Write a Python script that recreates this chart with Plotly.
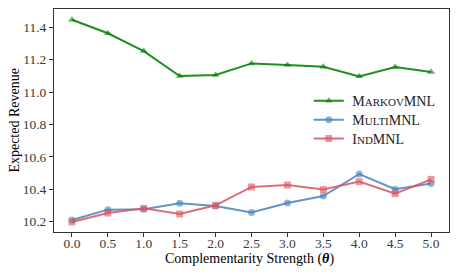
import plotly.graph_objects as go

theta = [0.0, 0.5, 1.0, 1.5, 2.0, 2.5, 3.0, 3.5, 4.0, 4.5, 5.0]
markov = [11.447, 11.363, 11.253, 11.099, 11.105, 11.177, 11.167, 11.156, 11.097, 11.155, 11.124]
multi = [10.210, 10.274, 10.277, 10.313, 10.296, 10.257, 10.315, 10.358, 10.494, 10.400, 10.435]
ind = [10.198, 10.253, 10.282, 10.247, 10.301, 10.414, 10.426, 10.398, 10.447, 10.373, 10.461]
y_ticks = [10.2, 10.4, 10.6, 10.8, 11.0, 11.2, 11.4]

FONT = "Liberation Serif, Times New Roman, serif"
TICK_COLOR = "#3a3a3a"

def sc(first, small, rest):
    return f"\u00a0{first}<span style='font-size:11px'>{small}</span>{rest}"

fig = go.Figure()
series = [
    (markov, sc("M", "ARKOV", "MNL"), "rgba(0,128,0,0.88)", "rgba(0,128,0,0.6)", "triangle-up", "legend", 0.587),
    (multi, sc("M", "ULTI", "MNL"), "rgba(70,130,190,0.85)", "rgba(70,130,190,0.6)", "circle", "legend2", 0.502),
    (ind, sc("I", "ND", "MNL"), "rgba(215,85,95,0.85)", "rgba(215,85,95,0.6)", "square", "legend3", 0.417),
]
legend_common = dict(x=0.645, xanchor="left", yanchor="middle",
                     bgcolor="rgba(0,0,0,0)", font=dict(family=FONT, size=14, color="#222"),
                     itemwidth=30)
legends = {}
for vals, name, lc, mc, sym, lg, ly in series:
    fig.add_trace(go.Scatter(
        x=theta, y=vals, name=name, mode="lines+markers", legend=lg,
        line=dict(color=lc, width=2),
        marker=dict(symbol=sym, size=7, color=mc, line=dict(width=0)),
    ))
    legends[lg] = dict(legend_common, y=ly)

fig.update_layout(
    width=451, height=267,
    margin=dict(l=46, r=10, t=1, b=43),
    paper_bgcolor="white", plot_bgcolor="white",
    font=dict(family=FONT, size=14, color="black"),
    showlegend=True,
    **legends,
    xaxis=dict(range=[-0.25, 5.25], tickvals=theta, ticktext=[f"{t:.1f}" for t in theta],
               showgrid=False, zeroline=False, showline=True, mirror=True, automargin=False,
               linecolor="#333", linewidth=1, ticks="outside", ticklen=4, tickcolor="#333",
               ticklabelstandoff=-5,
               tickfont=dict(family=FONT, size=13.5, color=TICK_COLOR)),
    yaxis=dict(range=[10.136, 11.513], tickvals=y_ticks, ticktext=[f"{v:.1f}" for v in y_ticks],
               showgrid=False, zeroline=False, showline=True, mirror=True, automargin=False,
               linecolor="#333", linewidth=1, ticks="outside", ticklen=4, tickcolor="#333",
               tickfont=dict(family=FONT, size=13.5, color=TICK_COLOR)),
    annotations=[
        dict(text="Complementarity Strength (<b><i>θ</i></b>)", xref="paper", yref="paper",
             x=0.495, y=-0.1233, xanchor="center", yanchor="middle", showarrow=False,
             font=dict(family=FONT, size=14, color="black")),
        dict(text="Expected Revenue", xref="paper", yref="paper", textangle=-90,
             x=-0.101, y=0.5, xanchor="center", yanchor="middle", showarrow=False,
             font=dict(family=FONT, size=14, color="black")),
    ],
)

fig.write_html("out.html")
